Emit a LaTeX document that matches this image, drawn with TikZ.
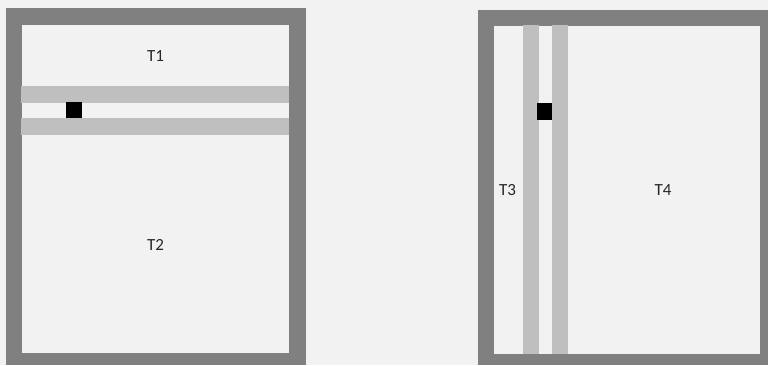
\documentclass[tikz,border=0pt]{standalone}
\usepackage{fontspec}
\setmainfont{Carlito}
\definecolor{bgc}{HTML}{F2F2F2}
\definecolor{framec}{HTML}{808080}
\definecolor{bandc}{HTML}{BFBFBF}
\begin{document}
\begin{tikzpicture}[x=1pt,y=-1pt,
  lbl/.style={inner sep=0pt,font=\fontsize{17}{20}\selectfont,text=black!85}]
\useasboundingbox (0,0) rectangle (768,365);
\fill[bgc] (0,0) rectangle (768,365);
% left frame
\fill[framec] (6,8) rectangle (306,365);
\fill[bgc] (22,25) rectangle (289,352.7);
\fill[bandc] (21,86) rectangle (289,102.7);
\fill[bandc] (21,118) rectangle (289,134.7);
\fill[black] (66,102) rectangle (82,118);
% right frame
\fill[framec] (478,10) rectangle (768,365);
\fill[bgc] (494,26) rectangle (760,354);
\fill[bandc] (523,25) rectangle (539,354);
\fill[bandc] (552,25) rectangle (568,354);
\fill[black] (537,103) rectangle (552,119.5);
% labels
\node[lbl] (t1) at (155.5,56.5) {T1};
\node[lbl] (t2) at (155.5,245) {T2};
\node[lbl] (t3) at (507.5,190) {T3};
\node[lbl] (t4) at (663,190) {T4};
\end{tikzpicture}
\end{document}
